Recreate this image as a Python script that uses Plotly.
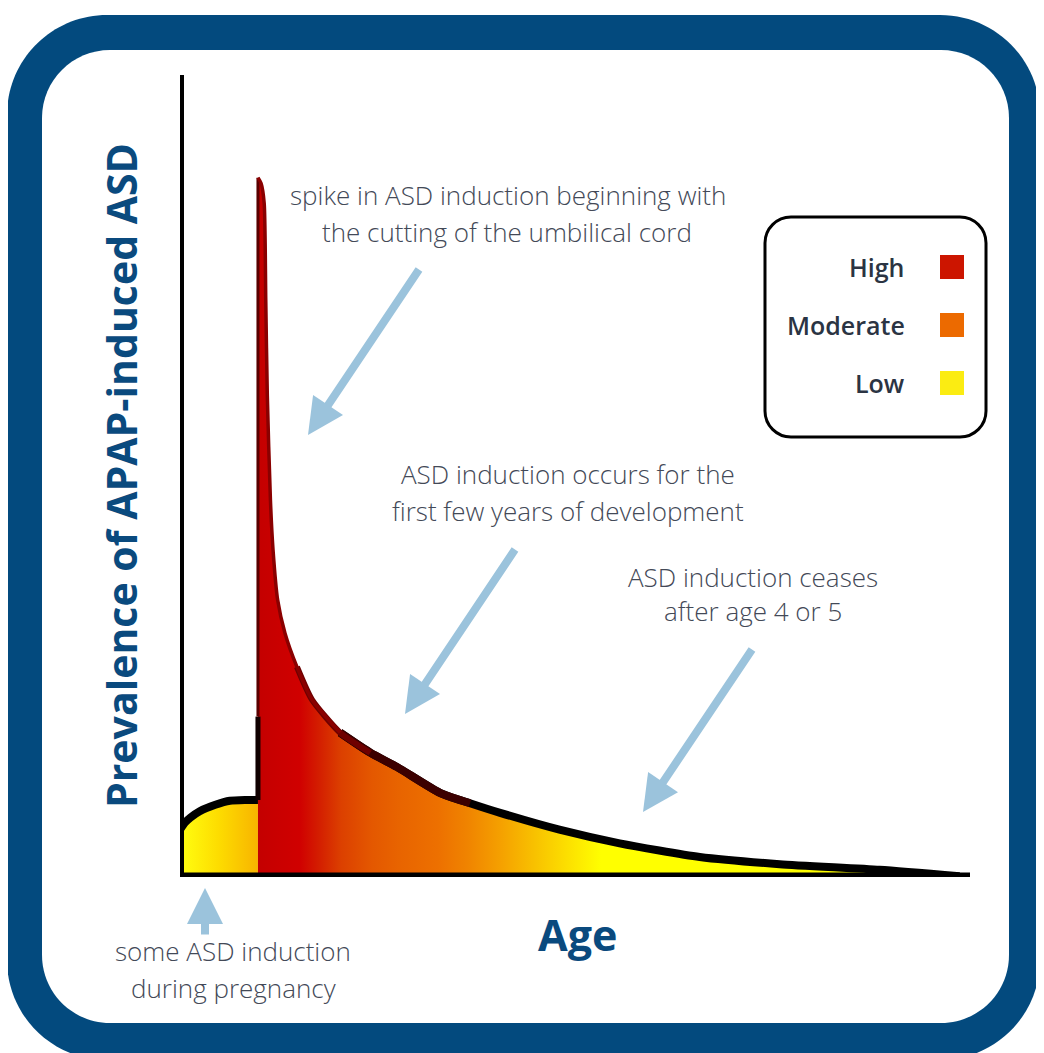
import plotly.graph_objects as go

W, H = 1036, 1045   # page body has an 8px margin; figure sits at (8, 8)
OFF = 8

# ---------------- data ----------------
preg_age = [-0.75, -0.70, -0.65, -0.56, -0.41, -0.27, -0.12, 0.0]
preg_prev = [5.9, 6.8, 7.4, 8.2, 9.0, 9.5, 9.6, 9.6]

post_age = [0.0, 0.03, 0.06, 0.075, 0.09, 0.12, 0.145, 0.19, 0.26, 0.375, 0.52,
            0.79, 1.08, 1.34, 1.75, 2.04, 2.33, 2.90, 3.48, 4.25, 5.02, 5.98, 6.75]
post_prev = [87.2, 86.5, 84.0, 72.0, 60.0, 47.0, 40.8, 34.5, 30.4, 26.2, 22.1,
             18.0, 15.5, 13.7, 10.5, 9.2, 8.0, 5.9, 4.2, 2.5, 1.6, 0.9, 0.1]

legend_labels = ["High", "Moderate", "Low"]
legend_colors = ["#cc1500", "#ec6a00", "#fbec12"]

x_title = "Age"
y_title = "Prevalence of APAP-induced ASD"

note_lines = [
    "spike in ASD induction beginning with",
    "the cutting of the umbilical cord",
    "ASD induction occurs for the",
    "first few years of development",
    "ASD induction ceases",
    "after age 4 or 5",
    "some ASD induction",
    "during pregnancy",
]

# ---------------- helpers ----------------
def X(px):
    return (px - OFF) / W

def Y(py):
    return 1 - (py - OFF) / H

def rrect(x0, y0, x1, y1, r):
    k = 0.5523 * r
    p = lambda a, b: f"{X(a):.5f},{Y(b):.5f}"
    s = f"M{p(x0 + r, y0)} L{p(x1 - r, y0)} "
    s += f"C{p(x1 - r + k, y0)} {p(x1, y0 + r - k)} {p(x1, y0 + r)} "
    s += f"L{p(x1, y1 - r)} "
    s += f"C{p(x1, y1 - r + k)} {p(x1 - r + k, y1)} {p(x1 - r, y1)} "
    s += f"L{p(x0 + r, y1)} "
    s += f"C{p(x0 + r - k, y1)} {p(x0, y1 - r + k)} {p(x0, y1 - r)} "
    s += f"L{p(x0, y0 + r)} "
    s += f"C{p(x0, y0 + r - k)} {p(x0 + r - k, y0)} {p(x0 + r, y0)} Z"
    return s

fig = go.Figure()

# pregnancy fill
fig.add_trace(go.Scatter(
    x=preg_age, y=preg_prev, mode="none", fill="tozeroy",
    fillgradient=dict(type="horizontal", start=preg_age[0], stop=preg_age[-1],
                      colorscale=[[0, "#ffff10"], [0.5, "#fddc00"], [1, "#f8b400"]]),
    hoverinfo="skip", showlegend=False))

# main fill after birth
stops_age = [0.0, 0.4, 0.6, 0.8, 1.1, 1.36, 1.73, 2.02, 2.33, 2.65, 2.98, 3.3]
stops_col = ["#c40000", "#d00000", "#d42000", "#dc4000", "#e45800", "#e86400",
             "#ed7000", "#f08400", "#f5a000", "#f8c000", "#fce000", "#ffff00"]
s0, s1 = stops_age[0], stops_age[-1]
fig.add_trace(go.Scatter(
    x=post_age, y=post_prev, mode="none", fill="tozeroy",
    fillgradient=dict(type="horizontal", start=s0, stop=s1,
                      colorscale=[[(a - s0) / (s1 - s0), c] for a, c in zip(stops_age, stops_col)]),
    hoverinfo="skip", showlegend=False))

# outlines
def line(xs, ys, color, width, shape="spline"):
    fig.add_trace(go.Scatter(x=xs, y=ys, mode="lines",
                             line=dict(color=color, width=width, shape=shape, smoothing=0.6),
                             hoverinfo="skip", showlegend=False))

line(preg_age, preg_prev, "#000000", 8)
line([0, 0], [preg_prev[-1], 20], "#100000", 5, "linear")
line([0, 0], [20, post_prev[0]], "#5a0000", 3, "linear")
line(post_age[11:], post_prev[11:], "#000000", 8)
line(post_age[11:16], post_prev[11:16], "#3c0000", 8)
line(post_age[9:13], post_prev[9:13], "#6e0000", 6)
line(post_age[0:12], post_prev[0:12], "#8a0000", 3.5)

shapes = []
# frame
shapes.append(dict(type="path", xref="paper", yref="paper", path=rrect(7, 15, 1040, 1060, 100),
                   fillcolor="#034a7e", line=dict(width=0), layer="below"))
shapes.append(dict(type="path", xref="paper", yref="paper", path=rrect(42, 50, 1009, 1023, 68),
                   fillcolor="#ffffff", line=dict(width=0), layer="below"))
# axes
shapes.append(dict(type="line", xref="x", yref="y", x0=preg_age[0], x1=preg_age[0], y0=-0.5, y1=100,
                   line=dict(color="#000000", width=8)))
shapes.append(dict(type="line", xref="x", yref="y", x0=-0.79, x1=6.85, y0=0, y1=0,
                   line=dict(color="#000000", width=9)))
# legend box
shapes.append(dict(type="path", xref="paper", yref="paper", path=rrect(765, 217, 986, 437, 26),
                   fillcolor="rgba(255,255,255,1)", line=dict(color="#000000", width=3)))
annotations = []
for i, (lab, col) in enumerate(zip(legend_labels, legend_colors)):
    cy = 267 + 58 * i
    shapes.append(dict(type="rect", xref="paper", yref="paper",
                       x0=X(940), x1=X(964), y0=Y(cy - 12), y1=Y(cy + 12),
                       fillcolor=col, line=dict(width=0)))
    annotations.append(dict(xref="paper", yref="paper", x=X(907), y=Y(cy), text=lab,
                            xanchor="right", yanchor="middle", showarrow=False,
                            font=dict(family="Open Sans", size=25, color="#2b3443", weight=600)))

# text notes, one line each
note_pos = [(508, 195), (507, 232), (568, 474), (568, 511),
            (753, 577), (753, 611), (233, 951), (233, 988)]
for t, (cx, cy) in zip(note_lines, note_pos):
    annotations.append(dict(xref="paper", yref="paper", x=X(cx), y=Y(cy), text=t,
                            xanchor="center", yanchor="middle", showarrow=False,
                            font=dict(family="Open Sans", size=26, color="#434957", weight=300)))

# arrows (tip, tail) in pixel positions
arrows = [((308, 435), (420, 268)), ((405, 714), (516, 548)),
          ((643, 812), (753, 648)), ((205, 888), (205, 936))]
for (tx, ty), (bx, by) in arrows:
    annotations.append(dict(xref="paper", yref="paper", axref="pixel", ayref="pixel",
                            x=X(tx), y=Y(ty), ax=bx - tx, ay=by - ty, text="",
                            showarrow=True, arrowhead=2, arrowsize=0.9, arrowwidth=8,
                            arrowcolor="#9bc3dc", standoff=0, startstandoff=0))

# axis titles
annotations.append(dict(xref="paper", yref="paper", x=X(577), y=Y(934), text=x_title,
                        showarrow=False, xanchor="center", yanchor="middle",
                        font=dict(family="Open Sans", size=43, color="#0a4a7e", weight="bold")))
annotations.append(dict(xref="paper", yref="paper", x=X(121), y=Y(476), text=y_title,
                        showarrow=False, xanchor="center", yanchor="middle", textangle=-90,
                        font=dict(family="Open Sans", size=41, color="#0a4a7e", weight="bold")))

fig.update_layout(
    width=W, height=H, margin=dict(l=0, r=0, t=0, b=0),
    paper_bgcolor="#ffffff", plot_bgcolor="rgba(0,0,0,0)",
    xaxis=dict(domain=[X(180), X(970)], range=[-0.75, 6.85], visible=False, fixedrange=True),
    yaxis=dict(domain=[Y(877), Y(75)], range=[0, 100], visible=False, fixedrange=True),
    shapes=shapes, annotations=annotations, showlegend=False,
)

fig.write_html("out.html", config={"displayModeBar": False})
